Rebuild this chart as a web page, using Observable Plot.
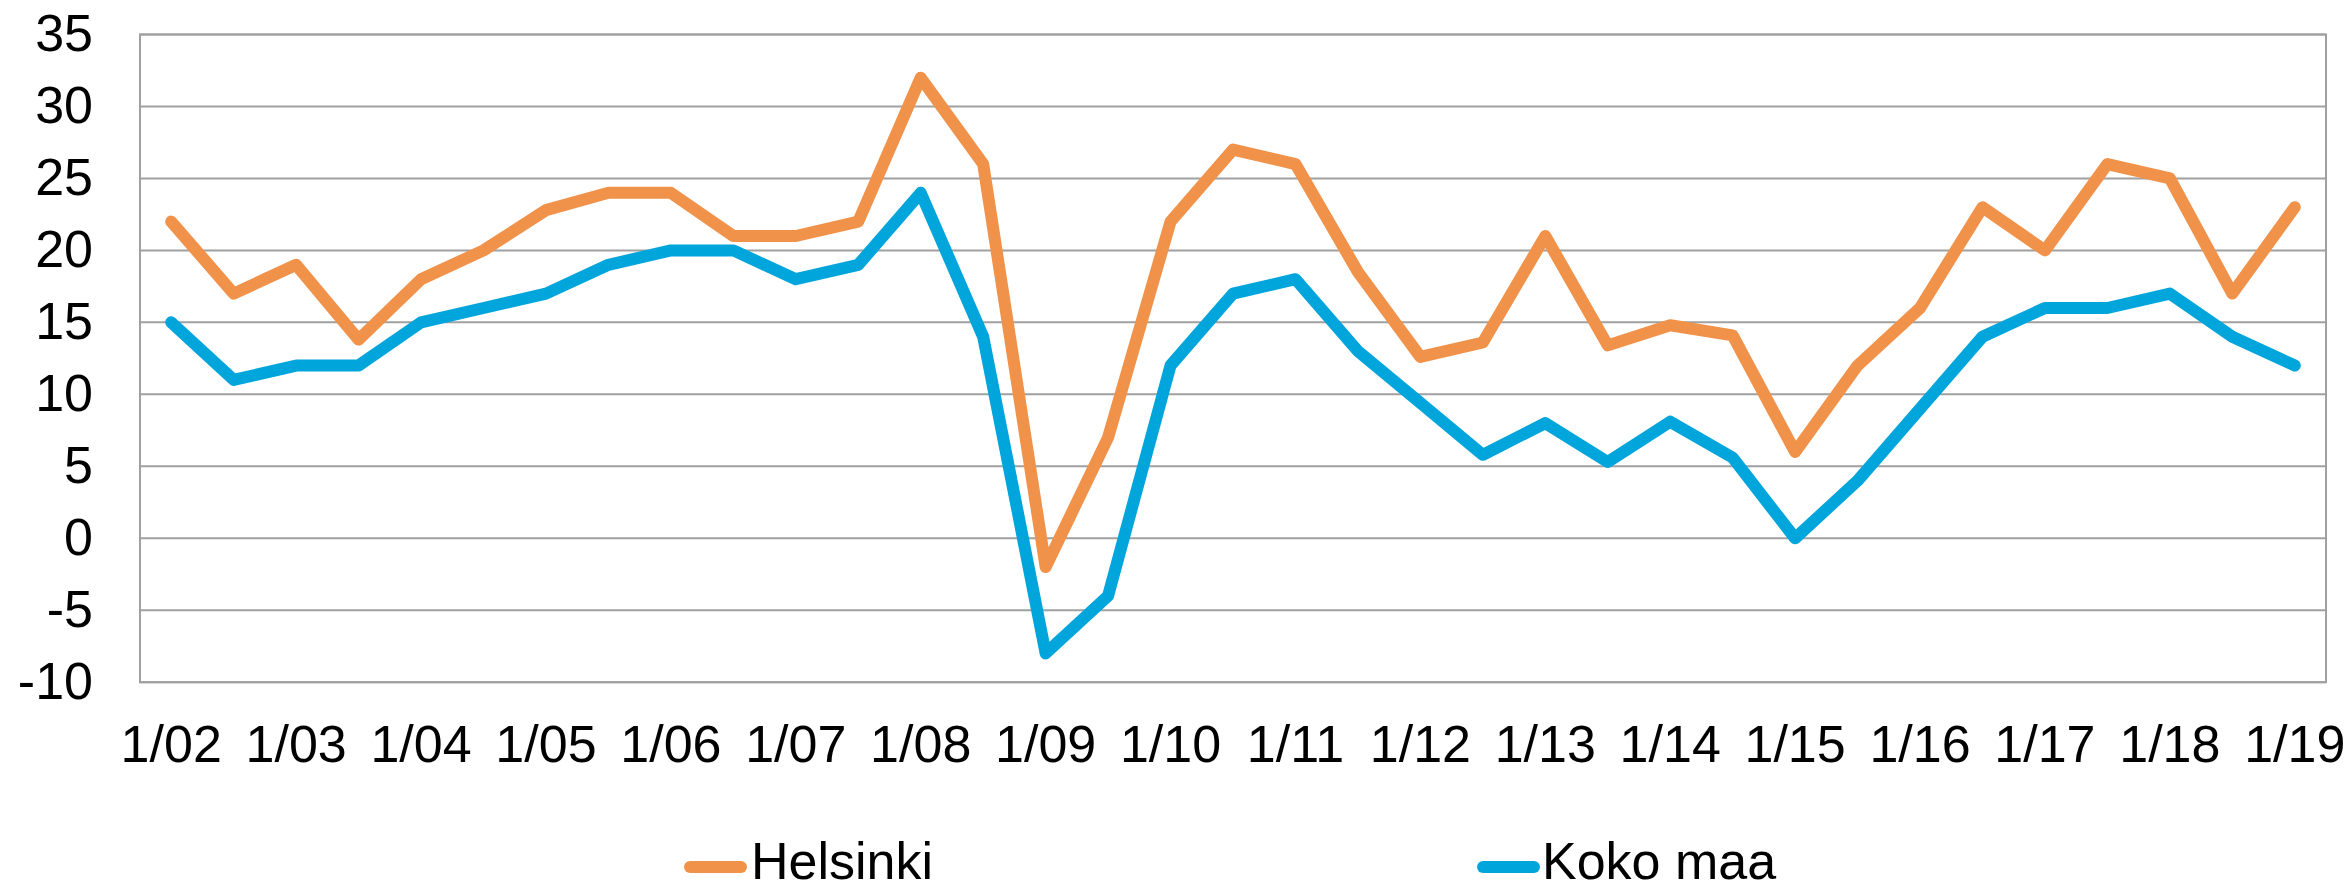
<!DOCTYPE html>
<html>
<head>
<meta charset="utf-8">
<script src="https://cdn.jsdelivr.net/npm/d3@7"></script>
<script src="https://cdn.jsdelivr.net/npm/@observablehq/plot@0.6"></script>
<style>
  html, body { margin: 0; padding: 0; background: #fff; }
  body { width: 2351px; height: 886px; overflow: hidden; font-family: "Liberation Sans", Arial, sans-serif; }
  #wrap { position: relative; width: 2351px; height: 886px; }
  #legend { position: absolute; left: 0; top: 800px; width: 2351px; height: 86px; }
  .item { position: absolute; top: 0; height: 86px; }
  .sw { position: absolute; top: 61px; width: 63px; height: 12px; border-radius: 6px; }
  .lbl { position: absolute; top: 0; font-size: 52px; line-height: 52px; color: #000; white-space: nowrap; }
</style>
</head>
<body>
<div id="wrap">
  <div id="chart"></div>
  <div id="legend"></div>
</div>
<script>
// Half-year periods (category labels)
const periods = [
  "1/02","7/02","1/03","7/03","1/04","7/04","1/05","7/05","1/06","7/06",
  "1/07","7/07","1/08","7/08","1/09","7/09","1/10","7/10","1/11","7/11",
  "1/12","7/12","1/13","7/13","1/14","7/14","1/15","7/15","1/16","7/16",
  "1/17","7/17","1/18","7/18","1/19"
];
const seriesNames = ["Helsinki", "Koko maa"];
const seriesColors = ["#F1924B", "#00A5DB"];
const helsinki = [22,17,19,13.8,18,20,22.8,24,24,21,21,22,32,26,-2,7,22,27,26,18.5,12.6,13.6,21,13.4,14.8,14.1,6,12,16,23,20,26,25,17,23];
const kokoMaa  = [15,11,12,12,15,16,17,19,20,20,18,19,24,14,-8,-4,12,17,18,13,9.4,5.8,8,5.3,8.1,5.6,0,4,9,14,16,16,17,14,12];
const yTicks = [-10,-5,0,5,10,15,20,25,30,35];
const xTickLabels = ["1/02","1/03","1/04","1/05","1/06","1/07","1/08","1/09","1/10","1/11","1/12","1/13","1/14","1/15","1/16","1/17","1/18","1/19"];

const rows = [];
[helsinki, kokoMaa].forEach((vals, s) => {
  vals.forEach((v, i) => rows.push({series: seriesNames[s], i, period: periods[i], value: v}));
});
const xTickIdx = xTickLabels.map(l => periods.indexOf(l));

const font = '"Liberation Sans", Arial, sans-serif';
const grid = "#A0A0A0";

const chart = Plot.plot({
  width: 2351,
  height: 800,
  marginLeft: 139.5,
  marginRight: 25.5,
  marginTop: 34,
  marginBottom: 118.3,
  style: {fontFamily: font, color: "#000", background: "#fff", overflow: "visible"},
  x: {domain: [-0.5, periods.length - 0.5]},
  y: {domain: [-10, 35]},
  color: {domain: seriesNames, range: seriesColors},
  marks: [
    Plot.ruleY(yTicks, {stroke: grid, strokeWidth: 2}),
    Plot.frame({stroke: grid, strokeWidth: 2}),
    Plot.axisY({ticks: yTicks, tickFormat: d => String(d), tickSize: 0, tickPadding: 47, fontSize: 52, label: null, fill: "#000"}),
    Plot.axisX({ticks: xTickIdx, tickFormat: i => periods[i], tickSize: 0, tickPadding: 43, fontSize: 52, label: null, fill: "#000"}),
    Plot.line(rows, {x: "i", y: "value", z: "series", stroke: "series", strokeWidth: 12, strokeLinejoin: "round", strokeLinecap: "round"})
  ]
});
document.getElementById("chart").appendChild(chart);

// Legend below the SVG
const legend = document.getElementById("legend");
const legendPos = [684, 1477];
seriesNames.forEach((name, k) => {
  const item = document.createElement("div");
  item.className = "item";
  item.style.left = legendPos[k] + "px";
  const sw = document.createElement("div");
  sw.className = "sw";
  sw.style.left = "0px";
  sw.style.background = seriesColors[k];
  const lbl = document.createElement("div");
  lbl.className = "lbl";
  lbl.style.left = (k === 0 ? 67 : 65) + "px";
  lbl.style.top = "35px";
  lbl.textContent = name;
  item.appendChild(sw);
  item.appendChild(lbl);
  legend.appendChild(item);
});
</script>
</body>
</html>
